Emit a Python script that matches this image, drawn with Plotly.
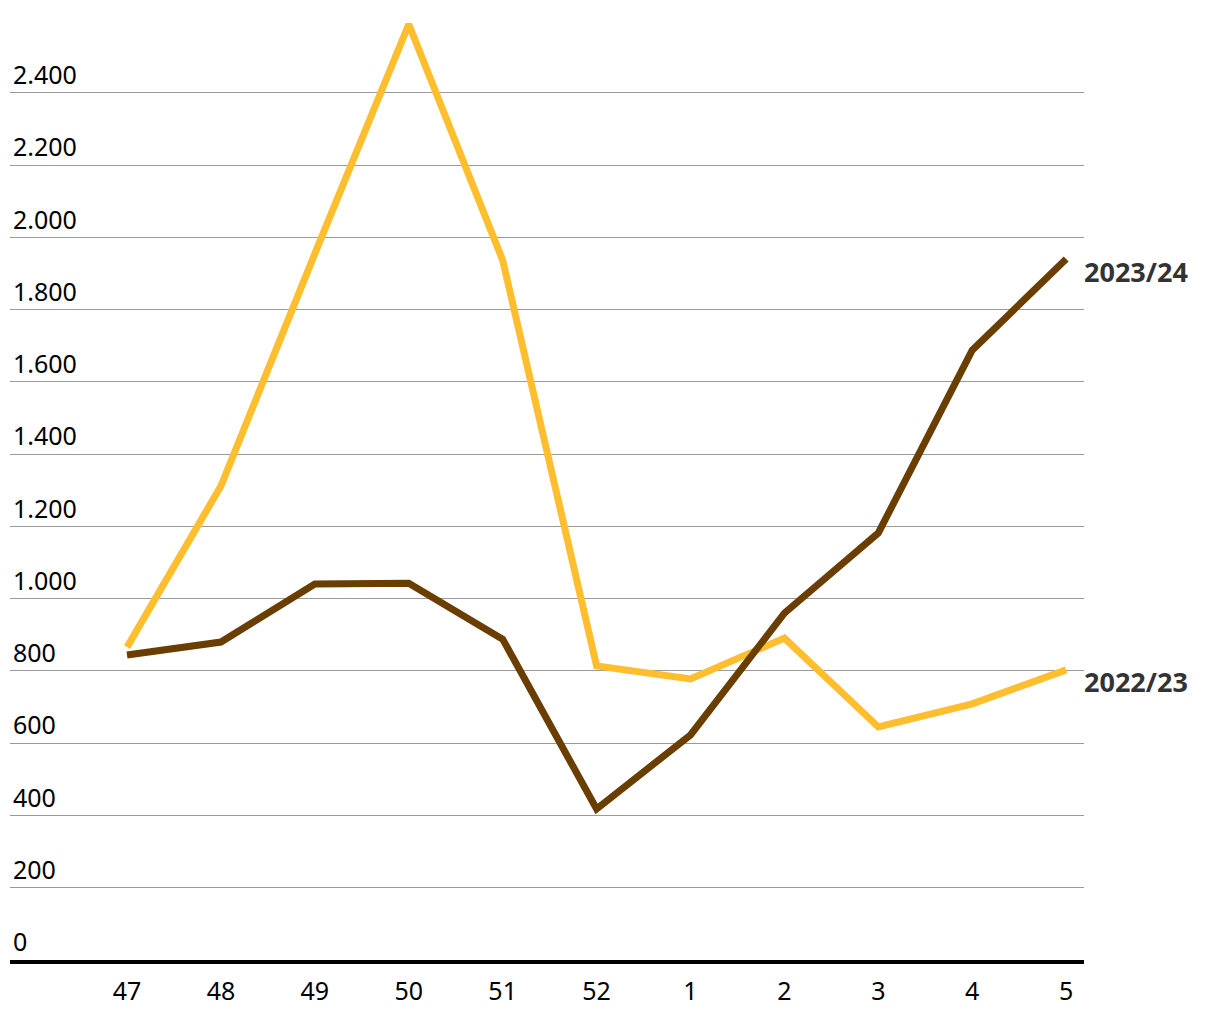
import plotly.graph_objects as go

weeks = ["47", "48", "49", "50", "51", "52", "1", "2", "3", "4", "5"]
s2022_23 = [866, 1312, 1955, 2590, 1937, 814, 778, 891, 645, 709, 803]
s2023_24 = [844, 880, 1041, 1043, 888, 418, 623, 960, 1182, 1688, 1940]
series_names = ["2022/23", "2023/24"]
ytick_vals = [0, 200, 400, 600, 800, 1000, 1200, 1400, 1600, 1800, 2000, 2200, 2400]
ytick_text = ["0", "200", "400", "600", "800", "1.000", "1.200", "1.400", "1.600",
              "1.800", "2.000", "2.200", "2.400"]

YELLOW = "#FFBE2E"
BROWN = "#6A3D00"
FONT = "Noto Sans"

xs = list(range(len(weeks)))
fig = go.Figure()
fig.add_trace(go.Scatter(x=xs, y=s2022_23, mode="lines", name=series_names[0],
                         line=dict(color=YELLOW, width=7), hoverinfo="skip"))
fig.add_trace(go.Scatter(x=xs, y=s2023_24, mode="lines", name=series_names[1],
                         line=dict(color=BROWN, width=7), hoverinfo="skip"))

for name, vals in zip(series_names, [s2022_23, s2023_24]):
    fig.add_annotation(x=xs[-1], y=vals[-1], text="<b>%s</b>" % name, showarrow=False,
                       xanchor="left", yanchor="middle", xshift=16, yshift=-12,
                       font=dict(family=FONT, size=27, color="#333333"))

fig.update_layout(
    width=1220, height=1020,
    margin=dict(l=2, r=144, t=0, b=68),
    paper_bgcolor="white", plot_bgcolor="white",
    showlegend=False,
    font=dict(family=FONT, size=25, color="#000000"),
    xaxis=dict(range=[-1.246, 10.19], tickvals=xs, ticktext=weeks,
               tickfont=dict(family=FONT, size=25, color="#000000"),
               showgrid=False, zeroline=False, showline=True, linecolor="black",
               linewidth=4, ticks="", ticklabelstandoff=6, fixedrange=True),
    yaxis=dict(range=[0, 2635], tickvals=ytick_vals, ticktext=ytick_text,
               tickfont=dict(family=FONT, size=25, color="#000000"),
               showgrid=True, gridcolor="#9a9a9a", gridwidth=1, zeroline=False,
               showline=False, ticks="", ticklabelposition="inside top",
               ticklabelstandoff=0, fixedrange=True),
)
fig.write_html("out.html")
